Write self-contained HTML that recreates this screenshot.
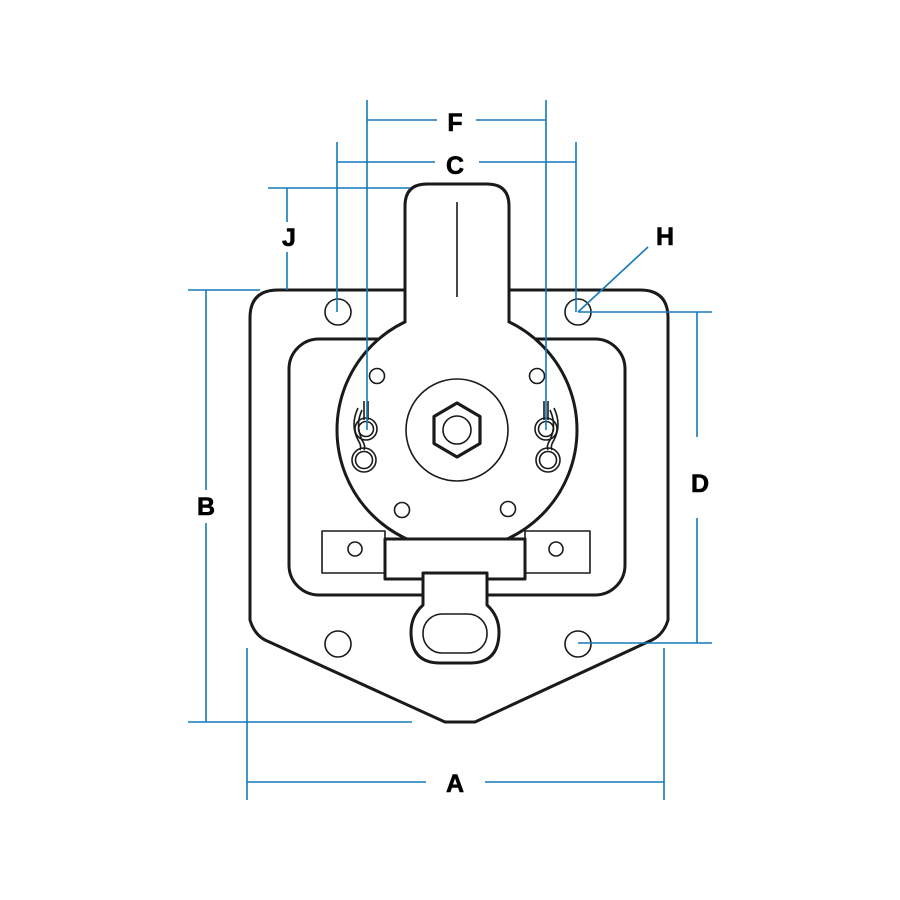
<!DOCTYPE html>
<html><head><style>body{margin:0;background:#fff}svg{display:block}</style></head><body>
<svg width="900" height="900" viewBox="0 0 900 900" xmlns="http://www.w3.org/2000/svg">
<g fill="none" stroke="#1a1a1a" stroke-width="3" stroke-linejoin="round">
<path d="M278,290 L640,290 Q668,290 668,318 L668,620 Q664,634 652,640 L475,722 L445,722 L265,640 Q254,634 250,620 L250,318 Q250,290 278,290 Z" fill="#fff"/>
<rect x="289" y="339" width="336" height="256" rx="30" fill="#fff"/>
<circle cx="338" cy="312" r="13" stroke-width="1.6"/>
<circle cx="578" cy="312" r="13" stroke-width="1.6"/>
<circle cx="338" cy="644" r="13" stroke-width="1.6"/>
<circle cx="578" cy="644" r="13" stroke-width="1.6"/>
<rect x="322" y="531" width="63" height="42" fill="#fff" stroke-width="1.6"/>
<rect x="525" y="531" width="65" height="42" fill="#fff" stroke-width="1.6"/>
<circle cx="355" cy="549" r="7" stroke-width="1.6"/>
<circle cx="556" cy="549" r="7" stroke-width="1.6"/>
<circle cx="457" cy="430" r="120" fill="#fff"/>
<rect x="406.5" y="186" width="101" height="142" fill="#fff" stroke="none"/>
<path d="M405,322 L405,206 Q405,184 427,184 L487,184 Q509,184 509,206 L509,322"/>
<line x1="457" y1="202" x2="457" y2="297" stroke-width="1.6"/>
<circle cx="457" cy="430" r="51" stroke-width="1.6"/>
<polygon points="457,403 480,416.5 480,443.5 457,457 434,443.5 434,416.5" stroke-width="3.2"/>
<circle cx="457" cy="430" r="14" stroke-width="1.6"/>
<g stroke-width="1.6">
<circle cx="377" cy="376" r="7.5"/><circle cx="537" cy="376" r="7.5"/>
<circle cx="402" cy="510" r="7.5"/><circle cx="508" cy="509" r="7.5"/>
<circle cx="366" cy="429" r="11"/><circle cx="366" cy="429" r="7.5"/>
<circle cx="364" cy="460" r="12"/><circle cx="364" cy="460" r="8.5"/>
<circle cx="546" cy="429" r="11"/><circle cx="546" cy="429" r="7.5"/>
<circle cx="548" cy="460" r="12"/><circle cx="548" cy="460" r="8.5"/>
<path d="M358,408 Q350,425 358,440 Q362,446 360,450 M362,410 Q355,425 362,440 Q366,446 364,450"/>
<path d="M554,408 Q562,425 554,440 Q550,446 552,450 M550,410 Q557,425 550,440 Q546,446 548,450"/>
<line x1="364" y1="401" x2="364" y2="420"/><line x1="368" y1="401" x2="368" y2="420"/>
<line x1="544" y1="401" x2="544" y2="420"/><line x1="548" y1="401" x2="548" y2="420"/>
</g>
<rect x="385" y="539" width="140" height="40" fill="#fff"/>
<path d="M423,573 L487,573 L487,605 Q499,616 499,632 Q499,663 470,663 L440,663 Q411,663 411,632 Q411,616 423,605 Z" fill="#fff"/>
<rect x="423" y="614" width="64" height="39" rx="19" stroke-width="1.6"/>
</g>
<g stroke="#1479b8" stroke-width="1.6" fill="none">
<path d="M367,100V430M546,100V430M367,120H437M476,120H546"/>
<path d="M337,142V312M576,142V312M337,162H435M479,162H576"/>
<path d="M268,188H410M287,188V222M287,252V290"/>
<path d="M188,290H260M188,722H412M206,290V490M206,523V722"/>
<path d="M578,312H712M578,643H712M697,312V437M697,518V643"/>
<path d="M247,648V800M664,648V800M247,782H426M485,782H664"/>
<path d="M578,312L648,247"/>
</g>
<g font-family="Liberation Sans, sans-serif" font-weight="bold" font-size="25" fill="#000" stroke="#000" stroke-width="0.6" text-anchor="middle">
<text x="455" y="131">F</text>
<text x="455" y="174">C</text>
<text x="289" y="246">J</text>
<text x="665" y="245">H</text>
<text x="206" y="515">B</text>
<text x="700" y="492">D</text>
<text x="455" y="792">A</text>
</g>
</svg>
</body></html>
